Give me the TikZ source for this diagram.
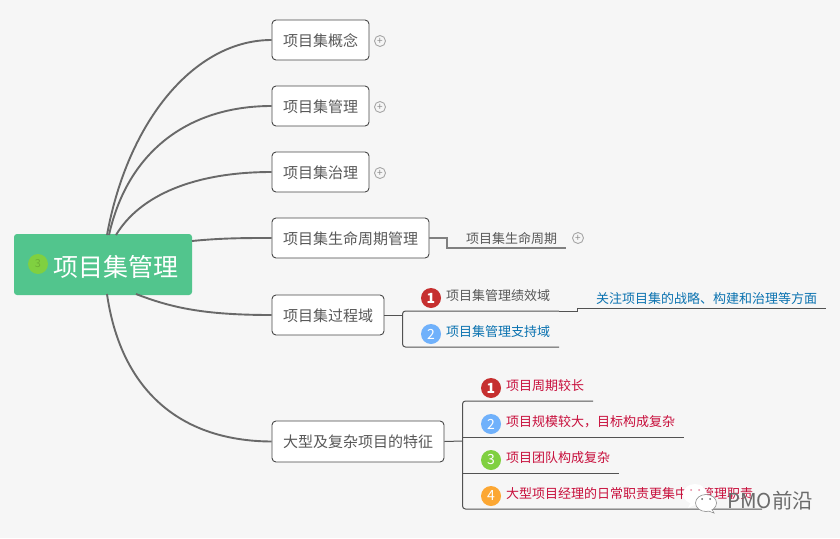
\documentclass[tikz,border=0pt]{standalone}
\usepackage{fontspec}
\usetikzlibrary{shapes.geometric}
\setmainfont{Noto Sans CJK SC}
\definecolor{bgcol}{HTML}{F6F6F6}
\definecolor{rootcol}{HTML}{52C58D}
\definecolor{linecol}{HTML}{696969}
\definecolor{textcol}{HTML}{585858}
\definecolor{bluecol}{HTML}{0A72B0}
\definecolor{redcol}{HTML}{C80F3C}
\definecolor{bad1}{HTML}{C62F2F}
\definecolor{bad2}{HTML}{70B1FB}
\definecolor{bad3}{HTML}{80D040}
\definecolor{bad4}{HTML}{FCA733}
\begin{document}
\begin{tikzpicture}[x=1pt,y=-1pt]
\tikzstyle{rootbox}=[rectangle,rounded corners=3pt,fill=rootcol,minimum width=178pt,minimum height=61pt,inner sep=0pt]
\tikzstyle{topic}=[draw=black!72,fill=white,rectangle,rounded corners=4pt,line width=0.9pt,minimum height=40pt,inner sep=0pt,text=textcol,text height=12.5pt,text depth=0pt,font=\fontsize{15}{15}\selectfont]
\tikzstyle{subtext}=[anchor=west,inner sep=0pt,text=textcol,font=\fontsize{13}{13}\selectfont]
\tikzstyle{branch}=[draw=linecol,line width=1.9pt]
\tikzstyle{subline}=[draw=black!68,line width=1pt,rounded corners=3pt]
\tikzstyle{badge}=[circle,minimum size=20pt,inner sep=0pt,text=white,font=\fontsize{14}{14}\selectfont]
\tikzstyle{plusicon}=[circle,draw=black!35,line width=0.9pt,minimum size=11pt,inner sep=0pt,
  label={[black!45,inner sep=0pt,font=\fontsize{10}{10}\selectfont]center:+}]
\tikzstyle{bubble}=[ellipse,fill=white,inner sep=0pt]

\useasboundingbox (0,0) rectangle (840,538);
\fill[bgcol] (0,0) rectangle (840,538);

% Root and main topics
\coordinate (rootup) at (107,235);
\coordinate (rootupb) at (109,235);
\coordinate (rootupc) at (116,235);
\coordinate (rootdown) at (107,294);
\coordinate (rootnear) at (136,294);
\coordinate (rootside) at (192,241);
\node[rootbox] (root) at (103,264.5) {};
\node[anchor=west,inner sep=0pt,text=white,font=\fontsize{25}{25}\selectfont] (roottext) at (53,266.5) {项目集管理};
\node[circle,fill=bad3,minimum size=20pt,inner sep=0pt,text=bad3!85!black,font=\fontsize{11}{11}\selectfont] (rooticon) at (38,264) {3};

\node[topic,minimum width=97pt] (t1) at (320.5,40) {项目集概念};
\node[topic,minimum width=97pt] (t2) at (320.5,106) {项目集管理};
\node[topic,minimum width=97pt] (t3) at (320.5,172) {项目集治理};
\node[topic,minimum width=157pt] (t4) at (350.5,238) {项目集生命周期管理};
\node[topic,minimum width=112pt] (t5) at (328,315) {项目集过程域};
\node[topic,minimum width=172pt,minimum height=41pt] (t6) at (358,441.5) {大型及复杂项目的特征};

% Branches from the root
\draw[branch] (rootup) .. controls (128,120) and (195,40) .. (t1.west);
\draw[branch] (rootupb) .. controls (128,150) and (190,106) .. (t2.west);
\draw[branch] (rootupc) .. controls (140,195) and (195,172) .. (t3.west);
\draw[branch] (rootside) .. controls (222,238) and (245,238) .. (t4.west);
\draw[branch] (rootnear) .. controls (172,308) and (205,315) .. (t5.west);
\draw[branch] (rootdown) .. controls (120,385) and (175,441) .. (t6.west);

% Plus icons
\foreach \i/\x/\y in {1/380/41,2/380/107,3/380/173,4/578/238} {
  \node[plusicon] (plus\i) at (\x,\y) {};
}

% Lifecycle subtopic
\node[subtext] (life) at (466,239) {项目集生命周期};
\coordinate (lifea) at (447,248);
\coordinate (lifeb) at (566,248);
\draw[draw=black!50,line width=1.3pt] (t4.east) -| (lifea) -- (lifeb);

% Process domains
\node[subtext] (p1) at (446,296) {项目集管理绩效域};
\node[subtext,text=bluecol] (p2) at (446,332) {项目集管理支持域};
\node[subtext,text=bluecol] (p3) at (596,299) {关注项目集的战略、构建和治理等方面};
\coordinate (pa) at (402.5,315);
\coordinate (pb) at (402.5,311);
\coordinate (pc) at (402.5,347);
\coordinate (pd) at (559,311);
\coordinate (pe) at (559,347);
\coordinate (pf) at (577.5,308);
\coordinate (pg) at (826,308);
\draw[subline,rounded corners=0pt] (t5.east) -- (pa);
\draw[subline] (pd) -- (pb) -- (pc) -- (pe);
\draw[subline,rounded corners=0pt] (pd) -- (pf |- pd) -- (pf) -- (pg);

% Features of large projects
\foreach \i/\y/\lbl in {1/386/项目周期较长,2/422/项目规模较大，目标构成复杂,3/458/项目团队构成复杂,4/494/大型项目经理的日常职责更集中于管理职责} {
  \node[subtext,text=redcol] (f\i) at (506,\y) {\lbl};
}
\coordinate (fa) at (462.5,441);
\coordinate (fb) at (462.5,401);
\coordinate (fc) at (462.5,509);
\coordinate (fd) at (593,401);
\coordinate (fe) at (684,437);
\coordinate (ff) at (619,473);
\coordinate (fg) at (762,509);
\draw[subline,rounded corners=0pt] (t6.east) -- (fa);
\draw[subline] (fd) -- (fb) -- (fc) -- (fg);
\draw[subline,rounded corners=0pt] (fa |- fe) -- (fe);
\draw[subline,rounded corners=0pt] (fa |- ff) -- (ff);

% Numbered badges
\foreach \n/\x/\y/\c/\lbl in {a/431/298/bad1/{\bfseries 1},b/431/334/bad2/2,c/491/388/bad1/{\bfseries 1},d/491/424/bad2/2,e/491/460/bad3/3,f/491/496/bad4/4} {
  \node[badge,fill=\c] (b\n) at (\x,\y) {\lbl};
}

% Watermark
\fill[white] (691,502) -- (688,508) -- (697,504) -- cycle;
\node[bubble,minimum width=24pt,minimum height=20pt] (wma) at (695,494) {};
\fill[white,draw=black!45,line width=0.6pt] (711,508) -- (714,513) -- (706,510) -- cycle;
\node[bubble,draw=black!45,line width=0.6pt,minimum width=21pt,minimum height=17pt] (wmb) at (706,503) {};
\fill[white] (709,507) -- (713,512) -- (705,509) -- cycle;
\foreach \x/\y/\c in {691/490/redcol!50,699/490/redcol!50,702/499/black!60,710/499/black!60} {
  \fill[\c] (\x,\y) circle (1pt);
}
\node[anchor=west,inner sep=0pt,text=black!58,font=\fontsize{20.5}{20.5}\selectfont] (wmtext) at (727,501) {PMO前沿};
\end{tikzpicture}
\end{document}
